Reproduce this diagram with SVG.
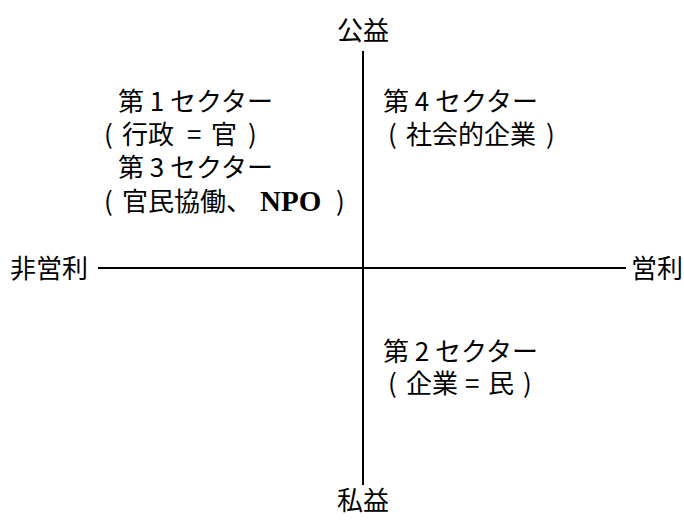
<svg xmlns="http://www.w3.org/2000/svg" width="684" height="521" viewBox="0 0 684 521">
<style>
text{font-family:"Noto Sans CJK JP","Noto Sans",sans-serif;font-size:26px;fill:#000}
.axis{stroke:#000;stroke-width:2;fill:none}
.npo{font-family:"Liberation Serif",serif;font-weight:bold;font-size:29px}
</style>
<rect width="684" height="521" fill="#fff"/>
<g id="connectors">
<line class="axis" x1="363" y1="51" x2="363" y2="485"/>
<line class="axis" x1="98" y1="268" x2="626" y2="268"/>
</g>
<g id="label-koueki"><text x="363" y="40" text-anchor="middle">公益</text></g>
<g id="label-shieki"><text x="363" y="510" text-anchor="middle">私益</text></g>
<g id="label-hieiri"><text x="10" y="278">非営利</text></g>
<g id="label-eiri"><text x="631" y="278">営利</text></g>
<g id="sector1">
<text x="118" y="111">第 1 セクター</text>
<text y="144"><tspan x="104">(</tspan><tspan x="122">行政</tspan><tspan x="187">=</tspan><tspan x="211">官</tspan><tspan x="248">)</tspan></text>
</g>
<g id="sector3">
<text x="118" y="177">第 3 セクター</text>
<text y="211"><tspan x="104">(</tspan><tspan x="122">官民協働、</tspan><tspan x="260" class="npo">NPO</tspan><tspan x="336">)</tspan></text>
</g>
<g id="sector4">
<text x="383" y="111">第 4 セクター</text>
<text y="144"><tspan x="388">(</tspan><tspan x="406">社会的企業</tspan><tspan x="546">)</tspan></text>
</g>
<g id="sector2">
<text x="383" y="361">第 2 セクター</text>
<text y="393"><tspan x="388">(</tspan><tspan x="406">企業</tspan><tspan x="465">=</tspan><tspan x="488">民</tspan><tspan x="523">)</tspan></text>
</g>
</svg>
